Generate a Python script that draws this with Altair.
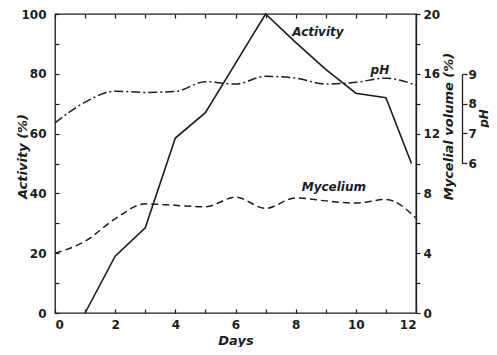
import altair as alt
import pandas as pd

# ---- data ----
days = list(range(13))
activity_days = [1, 2, 3, 4, 5, 6, 7, 8, 9, 10, 11, 11.85]
activity_pct = [0, 19, 28.5, 58.5, 67, 83.5, 100, 90.5, 81.5, 73.5, 72, 50]
mycelium_pct = [4.0, 4.8, 6.3, 7.3, 7.2, 7.1, 7.75, 7.0, 7.7, 7.5, 7.35, 7.6, 6.35]
ph_values = [7.35, 8.05, 8.42, 8.38, 8.41, 8.74, 8.66, 8.92, 8.86, 8.66, 8.72, 8.86, 8.62]

label_text = ["Activity", "pH", "Mycelium"]
label_day = [8.74, 10.8, 9.27]
label_act = [94.0, 81.3, 42.1]

df_act = pd.DataFrame({"day": activity_days, "activity": activity_pct})
df_myc = pd.DataFrame({"day": days, "mycelium": mycelium_pct})
df_ph = pd.DataFrame({"day": days, "ph": ph_values})
df_lab = pd.DataFrame({"day": label_day, "act": label_act, "text": label_text})

W, H = 361, 299
ink = "#1c1c1c"
font = "DejaVu Sans"

xs = alt.Scale(domain=[0, 12], nice=False, zero=False)

act = alt.Chart(df_act).mark_line(color=ink, strokeWidth=1.6).encode(
    x=alt.X("day:Q", scale=xs, axis=alt.Axis(
        orient="bottom", values=days, offset=-4, tickSize=4, domain=False,
        labelExpr="datum.value % 2 == 0 ? datum.label : ''", labelPadding=6,
        title="Days", titleY=31, titleBaseline="middle")),
    y=alt.Y("activity:Q", scale=alt.Scale(domain=[0, 100], nice=False), axis=alt.Axis(
        orient="left", values=list(range(0, 101, 10)), offset=-4, tickSize=4, domain=False,
        labelExpr="datum.value % 20 == 0 ? datum.label : ''", labelPadding=9,
        title="Activity (%)", titleAngle=270, titleX=-37, titleY=142, titleBaseline="middle")),
)

myc = alt.Chart(df_myc).mark_line(color=ink, strokeWidth=1.5, strokeDash=[7, 4], interpolate="monotone").encode(
    x=alt.X("day:Q", scale=xs, axis=None),
    y=alt.Y("mycelium:Q", scale=alt.Scale(domain=[0, 20], nice=False), axis=alt.Axis(
        orient="right", values=list(range(0, 21, 2)), tickSize=4,
        labelExpr="datum.value % 4 == 0 ? datum.label : ''", labelPadding=3,
        title="Mycelial volume (%)", titleAngle=270, titleX=32, titleY=112, titleBaseline="middle")),
)

ph = alt.Chart(df_ph).mark_line(color=ink, strokeWidth=1.5, strokeDash=[9, 3, 2, 3], interpolate="monotone").encode(
    x=alt.X("day:Q", scale=xs, axis=alt.Axis(
        orient="top", values=days, offset=-4, tickSize=4, domain=False, labels=False, title=None)),
    y=alt.Y("ph:Q", scale=alt.Scale(domain=[6, 9], range=[149, 60], nice=False, zero=False), axis=alt.Axis(
        orient="right", values=[6, 7, 8, 9], offset=46, tickSize=5, labelPadding=1,
        title="pH", titleAngle=270, titleX=21, titleY=104, titleBaseline="middle", titleFontSize=12)),
)

labels = alt.Chart(df_lab).mark_text(
    font=font, fontSize=12, fontWeight="bold", fontStyle="italic", color=ink,
    align="center", baseline="middle").encode(
    x=alt.X("day:Q", scale=xs, axis=None),
    y=alt.Y("act:Q", scale=alt.Scale(domain=[0, 100], nice=False), axis=None),
    text="text:N",
)

chart = alt.layer(act, myc, ph, labels).resolve_scale(
    x="independent", y="independent"
).properties(
    width=W, height=H,
    padding={"left": 47, "top": 6, "right": 73, "bottom": 34},
    autosize=alt.AutoSizeParams(type="none"),
).configure_axis(
    grid=False,
    labelFont=font, labelFontSize=12, labelFontWeight="bold", labelColor=ink,
    titleFont=font, titleFontSize=13, titleFontWeight="bold", titleFontStyle="italic", titleColor=ink,
    tickColor=ink, tickWidth=1.2, domainColor=ink, domainWidth=1.3,
).configure_view(stroke=ink, strokeWidth=1.3)

chart.save("out.html", embed_options={"renderer": "svg", "actions": False})
